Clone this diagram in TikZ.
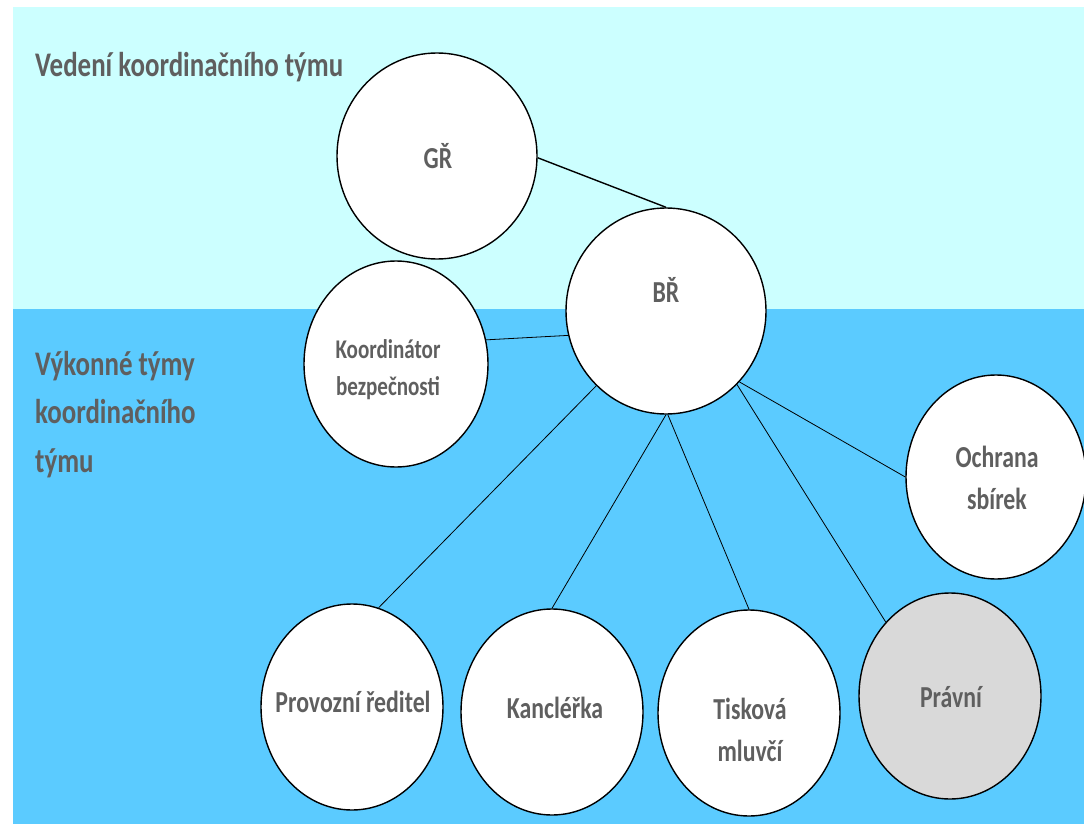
\documentclass[tikz,border=0pt]{standalone}
\usepackage{fontspec}
\setmainfont{Carlito}[FakeStretch=0.78]
\usetikzlibrary{shapes.geometric}
\definecolor{topbg}{RGB}{204,255,255}
\definecolor{botbg}{RGB}{91,203,255}
\definecolor{txt}{RGB}{95,95,95}
\definecolor{grayfill}{RGB}{217,217,217}
\tikzset{
  circ/.style 2 args={ellipse, draw=black, line width=1.4pt, fill=white, inner sep=0pt,
    minimum width=#1pt, minimum height=#2pt},
  lbl/.style={font=\bfseries\fontsize{30.5}{36}\selectfont, text=txt, inner sep=0pt, anchor=base},
  small/.style={font=\bfseries\fontsize{27}{32}\selectfont},
  head/.style={font=\bfseries\fontsize{34.5}{40}\selectfont, text=txt, inner sep=0pt, anchor=base west},
  conn/.style={draw=black, line width=0.8pt},
  thick conn/.style={draw=black, line width=1.4pt}
}
\begin{document}
\begin{tikzpicture}[x=1pt,y=-1pt]
\useasboundingbox (0,0) rectangle (1084,824);
\fill[white] (0,0) rectangle (1084,824);
\fill[topbg] (13,7) rectangle (1084,309);
\fill[botbg] (13,309) rectangle (1084,824);

% headings
\node[head] (h1) at (35,77) {Vedení koordinačního týmu};
\node[head] (h2a) at (35,375) {Výkonné týmy};
\node[head] (h2b) at (35,423) {koordinačního};
\node[head] (h2c) at (35,472) {týmu};

% circles
\node[circ={200}{206}] (GR) at (437,156) {};
\node[circ={200}{206}] (BR) at (666,311) {};
\node[circ={184}{206}] (KB) at (396,364) {};
\node[circ={180}{204}] (OS) at (996,477) {};
\node[circ={182}{206}] (PR) at (352,707) {};
\node[circ={182}{206}] (KA) at (552,712) {};
\node[circ={182}{206}] (TM) at (749,713) {};
\node[circ={182}{206}, fill=grayfill] (PV) at (950,696) {};

% connectors
\draw[thick conn] (GR.-1) -- (BR.90);
\draw[conn] (KB.15) -- (BR.194.5);
\draw[conn] (BR.-133.6) -- (PR.75);
\draw[conn] (BR.-90) -- (KA.90);
\draw[conn] (BR.-89) -- (TM.90);
\draw[conn] (BR.-46) -- (PV.131);
\draw[conn] (BR.-44) -- (OS.180);

% labels
\node[lbl] (tGR) at (438,168) {GŘ};
\node[lbl] (tBR) at (666,302) {BŘ};
\node[lbl, small] (tKB1) at (388,358) {Koordinátor};
\node[lbl, small] (tKB2) at (388,395) {bezpečnosti};
\node[lbl] (tOS1) at (997,467) {Ochrana};
\node[lbl] (tOS2) at (997,509) {sbírek};
\node[lbl] (tPR) at (353,712) {Provozní ředitel};
\node[lbl] (tKA) at (555,718) {Kancléřka};
\node[lbl] (tTM1) at (750,719) {Tisková};
\node[lbl] (tTM2) at (750,761) {mluvčí};
\node[lbl] (tPV) at (951,707) {Právní};
\end{tikzpicture}
\end{document}
